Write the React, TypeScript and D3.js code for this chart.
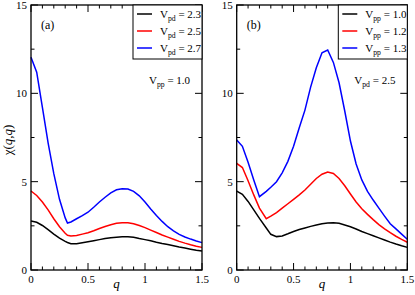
import * as d3 from 'd3';

// q grids (panel a has extra point at the kink near 0.32, panel b near 0.26)
const qA = [0, 0.05, 0.1, 0.15, 0.2, 0.25, 0.3, 0.32, 0.35, 0.4, 0.45, 0.5, 0.55, 0.6, 0.65, 0.7, 0.75, 0.8, 0.85, 0.9, 0.95, 1.0, 1.05, 1.1, 1.15, 1.2, 1.25, 1.3, 1.35, 1.4, 1.45, 1.5];
const blackA = [2.77, 2.7, 2.52, 2.28, 2.03, 1.8, 1.62, 1.56, 1.49, 1.48, 1.54, 1.6, 1.66, 1.72, 1.78, 1.83, 1.86, 1.88, 1.88, 1.85, 1.78, 1.72, 1.65, 1.57, 1.5, 1.44, 1.37, 1.3, 1.24, 1.18, 1.12, 1.07];
const redA = [4.47, 4.22, 3.85, 3.4, 2.9, 2.45, 2.08, 1.97, 1.92, 1.95, 2.03, 2.11, 2.22, 2.35, 2.46, 2.56, 2.64, 2.68, 2.68, 2.62, 2.52, 2.4, 2.26, 2.12, 1.98, 1.86, 1.74, 1.62, 1.52, 1.43, 1.35, 1.28];
const blueA = [12.04, 11.2, 9.2, 7.2, 5.45, 4.0, 2.95, 2.66, 2.72, 2.9, 3.08, 3.27, 3.55, 3.85, 4.12, 4.37, 4.54, 4.6, 4.58, 4.45, 4.2, 3.85, 3.45, 3.08, 2.75, 2.45, 2.22, 2.02, 1.87, 1.75, 1.64, 1.55];

const qB = [0, 0.05, 0.1, 0.15, 0.2, 0.26, 0.3, 0.35, 0.4, 0.45, 0.5, 0.55, 0.6, 0.65, 0.7, 0.75, 0.8, 0.85, 0.9, 0.95, 1.0, 1.05, 1.1, 1.15, 1.2, 1.25, 1.3, 1.35, 1.4, 1.45, 1.5];
const blackB = [4.47, 4.28, 3.88, 3.4, 2.92, 2.38, 2.02, 1.89, 1.93, 2.05, 2.18, 2.29, 2.38, 2.47, 2.55, 2.62, 2.66, 2.68, 2.64, 2.55, 2.45, 2.32, 2.18, 2.06, 1.94, 1.82, 1.7, 1.58, 1.47, 1.37, 1.28];
const redB = [6.04, 5.8, 5.05, 4.25, 3.5, 2.9, 3.05, 3.25, 3.5, 3.75, 4.0, 4.25, 4.53, 4.85, 5.18, 5.42, 5.55, 5.46, 5.18, 4.77, 4.3, 3.85, 3.47, 3.15, 2.85, 2.57, 2.33, 2.11, 1.91, 1.73, 1.57];
const blueB = [7.36, 7.0, 6.1, 5.1, 4.15, 4.45, 4.68, 5.0, 5.5, 6.15, 7.0, 8.05, 9.05, 10.35, 11.45, 12.3, 12.45, 11.75, 10.6, 9.0, 7.3, 6.0, 5.1, 4.45, 3.96, 3.5, 3.05, 2.62, 2.33, 2.03, 1.74];

const colors = ['#000000', '#ff0000', '#0000ff'];
const legendA = ['2.3', '2.5', '2.7'];
const legendB = ['1.0', '1.2', '1.3'];

const W = 415;
const H = 295;
const TOP = 5;
const BOTTOM = 270;
const FONT = '"Liberation Serif", "Times New Roman", serif';

const y = d3.scaleLinear().domain([0, 15]).range([BOTTOM, TOP]);

function Sub({ base, sub, rest, x, yy, size = 11 }) {
  return (
    <text x={x} y={yy} fontSize={size} fontFamily={FONT}>
      {base}
      <tspan fontSize={size * 0.7} dy={3}>{sub}</tspan>
      <tspan dy={-3}>{rest}</tspan>
    </text>
  );
}

function Panel({ left, right, q, series, legend, sub, tag, noteSub, noteVal }) {
  const x = d3.scaleLinear().domain([0, 1.5]).range([left, right]);
  const line = d3.line<number>().x((_, i) => x(q[i])).y(d => y(d));
  const xMajor = [0, 0.5, 1, 1.5];
  const xMinor = d3.range(0, 1.51, 0.1).map(v => +v.toFixed(1));
  const yMajor = [0, 5, 10, 15];
  const yMinor = [2.5, 7.5, 12.5];
  const lx = right - 69;
  return (
    <g>
      {series.map((s, i) => (
        <path key={i} d={line(s) || ''} fill="none" stroke={colors[i]} strokeWidth={1.5} />
      ))}
      {/* ticks, inward on all four sides */}
      {xMinor.map(v => (
        <g key={'xm' + v} stroke="#000" strokeWidth={1}>
          <line x1={x(v)} x2={x(v)} y1={BOTTOM} y2={BOTTOM - (xMajor.includes(v) ? 7 : 3.5)} />
          <line x1={x(v)} x2={x(v)} y1={TOP} y2={TOP + (xMajor.includes(v) ? 7 : 3.5)} />
        </g>
      ))}
      {yMajor.concat(yMinor).map(v => (
        <g key={'ym' + v} stroke="#000" strokeWidth={1}>
          <line x1={left} x2={left + (yMajor.includes(v) ? 7 : 3.5)} y1={y(v)} y2={y(v)} />
          <line x1={right} x2={right - (yMajor.includes(v) ? 7 : 3.5)} y1={y(v)} y2={y(v)} />
        </g>
      ))}
      <rect x={left} y={TOP} width={right - left} height={BOTTOM - TOP} fill="none" stroke="#000" strokeWidth={1.3} />
      {xMajor.map(v => (
        <text key={'xl' + v} x={x(v)} y={BOTTOM + 13} textAnchor="middle" fontSize={11} fontFamily={FONT}>{v}</text>
      ))}
      {yMajor.map(v => (
        <text key={'yl' + v} x={left - 4} y={y(v) + 4} textAnchor="end" fontSize={11} fontFamily={FONT}>{v}</text>
      ))}
      <text x={(left + right) / 2} y={BOTTOM + 18} textAnchor="middle" fontSize={13} fontStyle="italic" fontFamily={FONT}>q</text>
      <text x={left + 10} y={29} fontSize={12} fontFamily={FONT}>{tag}</text>
      <Sub base="V" sub={noteSub} rest={' = ' + noteVal} x={right - 53} yy={84} />
      {/* legend */}
      <rect x={lx} y={TOP} width={right - lx} height={54} fill="#fff" stroke="#000" strokeWidth={1} />
      {legend.map((l, i) => (
        <g key={'lg' + i}>
          <line x1={lx + 4} x2={lx + 19} y1={14 + i * 17} y2={14 + i * 17} stroke={colors[i]} strokeWidth={1.5} />
          <Sub base="V" sub={sub} rest={' = ' + l} x={lx + 27} yy={18 + i * 17} />
        </g>
      ))}
    </g>
  );
}

export default function App() {
  return (
    <svg width={W} height={H} style={{ position: 'absolute', left: 0, top: 0, background: '#fff' }}>
      <Panel left={31} right={202} q={qA} series={[blackA, redA, blueA]} legend={legendA} sub="pd" tag="(a)" noteSub="pp" noteVal="1.0" />
      <Panel left={236.7} right={407.3} q={qB} series={[blackB, redB, blueB]} legend={legendB} sub="pp" tag="(b)" noteSub="pd" noteVal="2.5" />
      <text transform="translate(12,140) rotate(-90)" textAnchor="middle" fontSize={13} fontFamily={FONT}>
        χ(<tspan fontStyle="italic">q</tspan>,<tspan fontStyle="italic">q</tspan>)
      </text>
    </svg>
  );
}
